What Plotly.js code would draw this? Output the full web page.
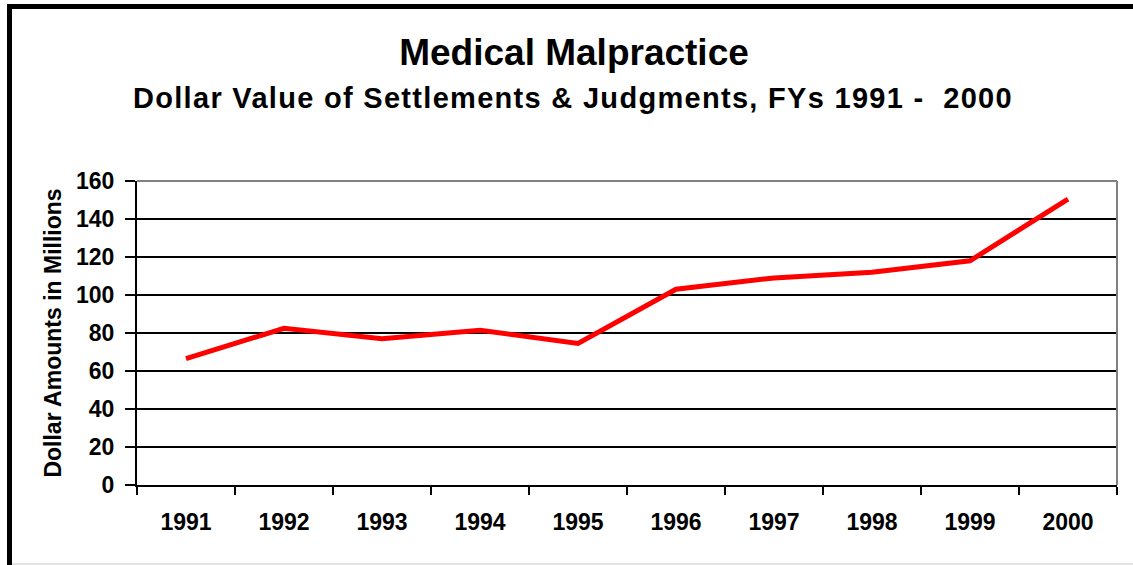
<!DOCTYPE html>
<html>
<head>
<meta charset="utf-8">
<script src="https://cdn.plot.ly/plotly-3.0.1.min.js"></script>
<style>
html,body{margin:0;padding:0;background:#fff;}
#chart{width:1133px;height:565px;}
</style>
</head>
<body>
<div id="chart"></div>
<script>
const years = ["1991","1992","1993","1994","1995","1996","1997","1998","1999","2000"];
const dollarsMillions = [66.5, 82.5, 77, 81.5, 74.5, 103, 109, 112, 118, 150.5];
const yTicks = [0,20,40,60,80,100,120,140,160];

const FONT = "Liberation Sans, Arial, Helvetica, sans-serif";
const W = 1133, H = 565;
const L = 137, R = 1117, T = 181, B = 485;
const px = x => (x - L) / (R - L);
const py = y => (B - y) / (B - T);

const trace = {
  x: years,
  y: dollarsMillions,
  type: "scatter",
  mode: "lines",
  line: {color: "#ff0000", width: 5},
  hoverinfo: "x+y"
};

const layout = {
  width: W, height: H,
  margin: {l: L, r: W - R, t: T, b: H - B, pad: 0},
  paper_bgcolor: "#ffffff",
  plot_bgcolor: "#ffffff",
  showlegend: false,
  font: {family: FONT, color: "#000"},
  title: {
    text: "Medical Malpractice",
    font: {family: FONT, size: 37, weight: "bold", color: "#000"},
    xref: "container", x: 574 / W, xanchor: "center",
    yref: "container", y: 1 - 52 / H, yanchor: "middle"
  },
  annotations: [{
    text: "<span style=\"letter-spacing:1.3px\">Dollar Value of Settlements &amp; Judgments, FYs 1991 -  2000</span>",
    xref: "paper", yref: "paper",
    x: px(573), y: py(98), xanchor: "center", yanchor: "middle",
    showarrow: false,
    font: {family: FONT, size: 29, weight: "bold", color: "#000"}
  }],
  xaxis: {
    type: "category",
    range: [-0.5, 9.5],
    tickson: "boundaries",
    ticks: "outside", ticklen: 8, tickwidth: 2, tickcolor: "#000",
    showline: true, linecolor: "#000", linewidth: 2,
    showgrid: false, zeroline: false,
    tickfont: {family: FONT, size: 23, weight: "bold", color: "#000"},
    ticklabelstandoff: 15,
    fixedrange: true
  },
  yaxis: {
    range: [0, 160],
    tickmode: "array", tickvals: yTicks, ticktext: yTicks.map(String),
    ticks: "outside", ticklen: 10, tickwidth: 2, tickcolor: "#000",
    showline: true, linecolor: "#000", linewidth: 2,
    showgrid: true, gridcolor: "#000", gridwidth: 2,
    zeroline: false,
    tickfont: {family: FONT, size: 23, weight: "bold", color: "#000"},
    ticklabelstandoff: 6,
    title: {
      text: "Dollar Amounts in Millions",
      font: {family: FONT, size: 23, weight: "bold", color: "#000"},
      standoff: 8
    },
    fixedrange: true
  },
  shapes: [
    {type: "line", xref: "paper", yref: "paper", x0: 0, x1: 1, y0: 1, y1: 1,
     line: {color: "#808080", width: 2}, layer: "above"},
    {type: "line", xref: "paper", yref: "paper", x0: 1, x1: 1, y0: 0, y1: 1,
     line: {color: "#808080", width: 2}, layer: "above"},
    {type: "rect", xref: "paper", yref: "paper",
     x0: px(7), x1: px(1133), y0: py(9), y1: py(4),
     fillcolor: "#000", line: {width: 0}, layer: "above"},
    {type: "rect", xref: "paper", yref: "paper",
     x0: px(7), x1: px(12), y0: py(565), y1: py(4),
     fillcolor: "#000", line: {width: 0}, layer: "above"},
    {type: "line", xref: "paper", yref: "paper",
     x0: px(12), x1: px(1133), y0: py(564), y1: py(564),
     line: {color: "#c8c8c8", width: 1}, layer: "above"}
  ]
};

Plotly.newPlot("chart", [trace], layout, {displayModeBar: false, staticPlot: true});
</script>
</body>
</html>
